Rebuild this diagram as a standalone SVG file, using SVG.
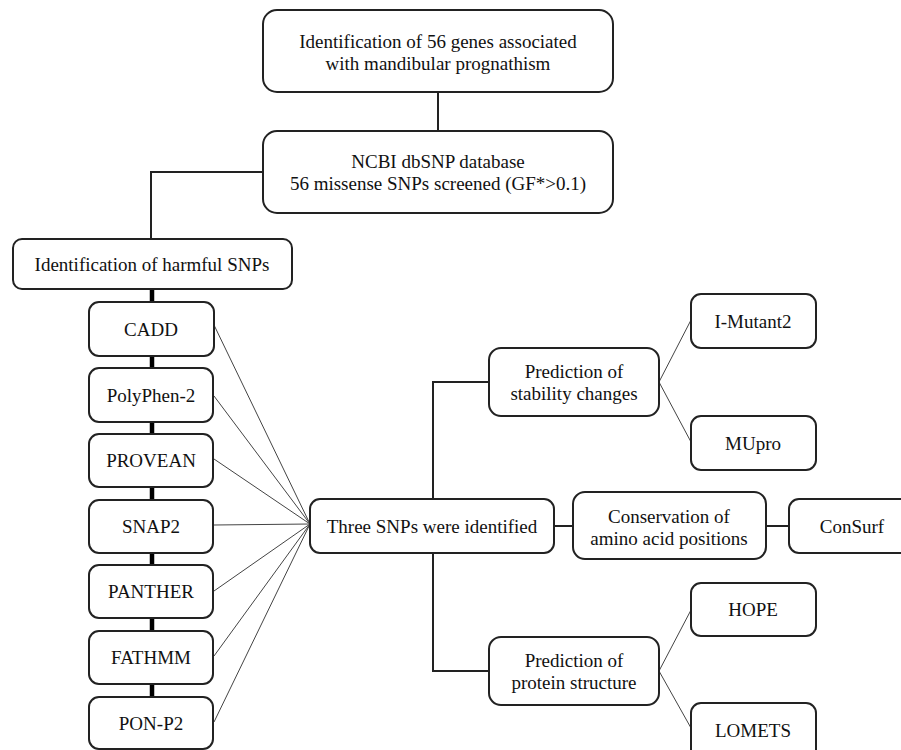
<svg xmlns="http://www.w3.org/2000/svg" width="901" height="750" viewBox="0 0 901 750">
<style>
.b{fill:#fff;stroke:#222;stroke-width:2}
.t{font-family:"Liberation Serif","Times New Roman",serif;font-size:19px;fill:#111;text-anchor:middle}
.c{fill:none;stroke:#222;stroke-width:2}
.thin{fill:none;stroke:#444;stroke-width:1}
.thick{fill:none;stroke:#000;stroke-width:4.5}
</style>
<rect width="901" height="750" fill="#fff"/>
<g id="connectors">
<line class="c" x1="438" y1="92" x2="438" y2="131"/>
<polyline class="c" points="263,172 151,172 151,239"/>
<line class="thick" x1="152" y1="289" x2="152" y2="740"/>
<line class="thin" x1="214" y1="325" x2="310" y2="524"/>
<line class="thin" x1="214" y1="396" x2="310" y2="524"/>
<line class="thin" x1="214" y1="459" x2="310" y2="524"/>
<line class="thin" x1="214" y1="525" x2="310" y2="524"/>
<line class="thin" x1="214" y1="591" x2="310" y2="524"/>
<line class="thin" x1="214" y1="656" x2="310" y2="524"/>
<line class="thin" x1="214" y1="722" x2="310" y2="524"/>
<polyline class="c" points="489,382 433,382 433,671 489,671"/>
<line class="c" x1="554" y1="526" x2="573" y2="526"/>
<line class="c" x1="766" y1="526" x2="789" y2="526"/>
<line class="thin" x1="659" y1="382" x2="691" y2="320"/>
<line class="thin" x1="659" y1="382" x2="691" y2="442"/>
<line class="thin" x1="659" y1="671" x2="691" y2="610"/>
<line class="thin" x1="659" y1="671" x2="691" y2="728"/>
</g>
<g id="top"><rect class="b" x="263" y="10" width="350" height="82" rx="14"/><text class="t" x="438" y="48">Identification of 56 genes associated</text><text class="t" x="438" y="70">with mandibular prognathism</text></g>
<g id="ncbi"><rect class="b" x="263" y="131" width="350" height="82" rx="14"/><text class="t" x="438" y="168">NCBI dbSNP database</text><text class="t" x="438" y="190">56 missense SNPs screened (GF*&gt;0.1)</text></g>
<g id="harmful"><rect class="b" x="13" y="239" width="279" height="50" rx="9"/><text class="t" x="152" y="271">Identification of harmful SNPs</text></g>
<g id="cadd"><rect class="b" x="89" y="302" width="125" height="54" rx="10"/><text class="t" x="151" y="336">CADD</text></g>
<g id="polyphen"><rect class="b" x="89" y="368" width="124" height="54" rx="10"/><text class="t" x="151" y="402">PolyPhen-2</text></g>
<g id="provean"><rect class="b" x="89" y="434" width="124" height="53" rx="10"/><text class="t" x="151" y="467">PROVEAN</text></g>
<g id="snap2"><rect class="b" x="89" y="500" width="124" height="53" rx="10"/><text class="t" x="151" y="533">SNAP2</text></g>
<g id="panther"><rect class="b" x="89" y="565" width="124" height="53" rx="10"/><text class="t" x="151" y="598">PANTHER</text></g>
<g id="fathmm"><rect class="b" x="89" y="631" width="124" height="53" rx="10"/><text class="t" x="151" y="664">FATHMM</text></g>
<g id="ponp2"><rect class="b" x="89" y="697" width="124" height="52" rx="10"/><text class="t" x="151" y="730">PON-P2</text></g>
<g id="three"><rect class="b" x="310" y="499" width="244" height="54" rx="10"/><text class="t" x="432" y="533">Three SNPs were identified</text></g>
<g id="stability"><rect class="b" x="489" y="348" width="170" height="68" rx="12"/><text class="t" x="574" y="378">Prediction of</text><text class="t" x="574" y="400">stability changes</text></g>
<g id="imutant"><rect class="b" x="691" y="294" width="125" height="54" rx="10"/><text class="t" x="753" y="328">I-Mutant2</text></g>
<g id="mupro"><rect class="b" x="691" y="416" width="125" height="54" rx="10"/><text class="t" x="753" y="450">MUpro</text></g>
<g id="conservation"><rect class="b" x="573" y="492" width="193" height="67" rx="12"/><text class="t" x="669" y="523">Conservation of</text><text class="t" x="669" y="545">amino acid positions</text></g>
<g id="consurf"><rect class="b" x="789" y="499" width="126" height="54" rx="10"/><text class="t" x="852" y="533">ConSurf</text></g>
<g id="protein"><rect class="b" x="489" y="637" width="170" height="68" rx="12"/><text class="t" x="574" y="667">Prediction of</text><text class="t" x="574" y="689">protein  structure</text></g>
<g id="hope"><rect class="b" x="691" y="583" width="125" height="53" rx="10"/><text class="t" x="753" y="616">HOPE</text></g>
<g id="lomets"><rect class="b" x="691" y="703" width="125" height="56" rx="10"/><text class="t" x="753" y="737">LOMETS</text></g>
</svg>
